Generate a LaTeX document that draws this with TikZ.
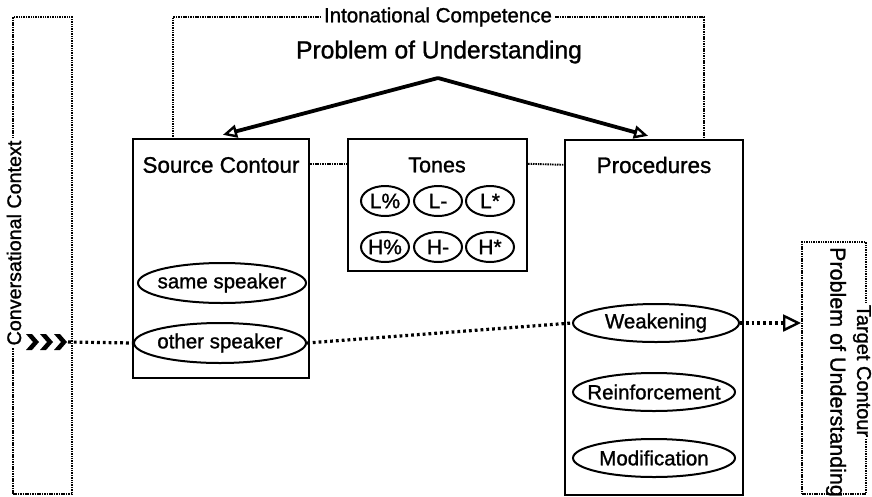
\documentclass[tikz,border=0pt]{standalone}
\usepackage{fontspec}
\setmainfont[FakeBold=1.2]{Liberation Sans}
\usetikzlibrary{shapes.geometric,arrows.meta}
\newcommand\zw[1]{\makebox[0pt]{#1}}
\begin{document}
\begin{tikzpicture}[x=1pt,y=-1pt,
  fs/.style={font=\fontsize{#1}{#1}\selectfont},
  solidbox/.style={draw, line width=2.4pt, inner sep=0pt},
  boxdot/.style={draw, line width=1.9pt, dash pattern=on 1.5pt off 0.9pt},
  condot/.style={draw, line width=3.2pt, dash pattern=on 2.8pt off 3pt},
  oval/.style={draw, ellipse, line width=2pt, inner sep=0pt, fs=20.5},
  tone/.style={draw, ellipse, line width=2pt, inner sep=0pt, minimum width=48, minimum height=30, fs=21},
  bigarrow/.style={line width=3.8pt, -{Triangle[open, length=14pt, width=13pt, line width=2.4pt]}},
  lbl/.style={fill=white, inner sep=2.5pt},
]
\useasboundingbox (0,0) rectangle (872,496);

% Conversational Context box
\node[boxdot, minimum width=59, minimum height=477, inner sep=0pt] (conv) at (42.5,255.5) {};
\node[lbl, rotate=90, fs=19.7] (convl) at (14,243) {Conversational Context};

% Intonational Competence frame
\coordinate (icl) at (173,139);
\coordinate (ictl) at (173,17);
\coordinate (ictr) at (704,17);
\coordinate (icr) at (704,140);
\draw[boxdot] (icl) -- (ictl) -- (ictr) -- (icr);
\node[lbl, fs=20.5] (icomp) at (438,17) {Intonational Competence};

% Title
\node[fs=24.6] (pou) at (439,52) {Problem of Understanding};
\coordinate (apex) at (438,78);

% Source Contour box
\node[solidbox, minimum width=176, minimum height=239] (src) at (221,258.5) {};
\node[fs=22.4] (srct) at (221,165) {Source Contour};
\node[oval, minimum width=168, minimum height=40] (same) at (222,283) {\zw{same speaker}};
\node[oval, minimum width=172, minimum height=40] (other) at (220,343) {\zw{other speaker}};

% Tones box
\node[solidbox, minimum width=179, minimum height=132] (tones) at (437.5,205) {};
\node[fs=21.5] (tonest) at (437,165) {Tones};
\node[tone] (lp) at (385,201) {\zw{L\%}};
\node[tone] (lm) at (438,201) {\zw{L-}};
\node[tone] (ls) at (490,201) {\zw{L*}};
\node[tone] (hp) at (385,247) {\zw{H\%}};
\node[tone] (hm) at (438,247) {\zw{H-}};
\node[tone] (hs) at (490,247) {\zw{H*}};

% Procedures box
\node[solidbox, minimum width=178, minimum height=355] (proc) at (654,317.5) {};
\node[fs=22.4] (proct) at (654,165) {Procedures};
\node[oval, minimum width=166, minimum height=38] (weak) at (656,323) {\zw{Weakening}};
\node[oval, minimum width=162, minimum height=38] (reinf) at (654,392) {\zw{Reinforcement}};
\node[oval, minimum width=162, minimum height=38] (modif) at (654,458) {\zw{Modification}};

% Target Contour box
\node[boxdot, minimum width=64, minimum height=252, inner sep=0pt] (tgt) at (834,368) {};
\node[lbl, rotate=-90, fs=20, inner sep=1.5pt] (tgtl) at (862,371) {Target Contour};
\node[rotate=-90, fs=21.5] (tgtp) at (836,372) {Problem of Understanding};

% links between boxes
\draw[boxdot] ([yshift=-26pt]src.north east) -- ([yshift=-26pt]tones.north west);
\draw[boxdot] ([yshift=-26pt]tones.north east) -- ([yshift=-26pt]proc.north west);

% arrows from title
\draw[bigarrow] (apex) -- ([xshift=2pt,yshift=3pt]src.north);
\draw[bigarrow] (apex) -- ([xshift=-6pt,yshift=3pt]proc.north);

% chevrons
\coordinate (chev) at (26,342);
\foreach \dx in {0,14,28}{
  \fill ([xshift=\dx pt]chev) ++(0,-8) -- ++(6,0) -- ++(7,8) -- ++(-7,8) -- ++(-6,0) -- ++(7,-8) -- cycle;
}
\coordinate (chevend) at (68,342);

% dotted flow
\draw[condot] (chevend) -- (other.west);
\draw[condot] (other.east) -- (weak.west);
\draw[condot, -{Triangle[open, length=18pt, width=17pt, line width=2.4pt]}] (weak.east) -- (weak.east -| tgt.west);
\end{tikzpicture}
\end{document}
